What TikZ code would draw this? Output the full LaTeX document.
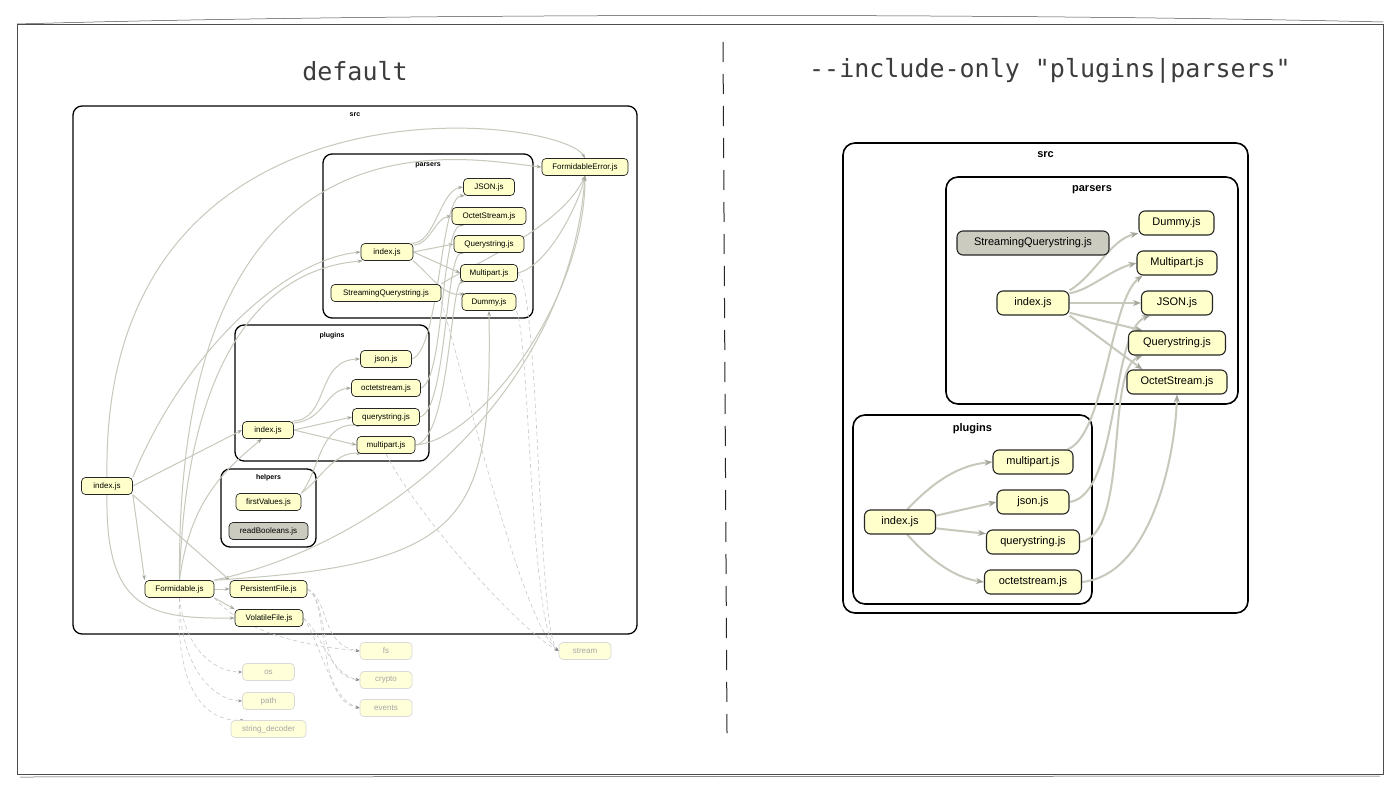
\documentclass[tikz,border=0pt]{standalone}
\usepackage{fontspec}
\setmainfont{Liberation Sans}
\setmonofont{DejaVu Sans Mono}
\usetikzlibrary{arrows.meta,positioning}
\definecolor{filefill}{HTML}{FFFFCC}
\definecolor{orphanfill}{HTML}{CBCBC0}
\definecolor{depline}{HTML}{C6C9BC}
\definecolor{deptip}{HTML}{A2A598}
\definecolor{titlecol}{HTML}{3C3C3C}
\pgfdeclarelayer{bg}
\pgfdeclarelayer{edgelayer}
\pgfsetlayers{bg,edgelayer,main}

\begin{document}
\begin{tikzpicture}[x=1pt, y=-1pt,
  file/.style={draw=black!85, line width=0.7pt, fill=filefill, rounded corners=4pt,
    minimum width=#1, minimum height=17pt, inner sep=0pt, font=\fontsize{8}{9}\selectfont},
  file/.default=56pt,
  bigfile/.style={file=#1, line width=1.1pt, rounded corners=6pt, minimum height=24pt,
    font=\fontsize{11}{13}\selectfont},
  bigfile/.default=76pt,
  extfile/.style={file=#1, draw=black!15, fill=filefill!75, text=black!35},
  extfile/.default=52pt,
  orphan/.style={fill=orphanfill},
  folder/.style={draw=black, line width=1.3pt, rounded corners=9pt, inner sep=0pt},
  bigfolder/.style={folder, line width=1.6pt, rounded corners=12pt},
  flabel/.style={font=\bfseries\fontsize{7}{8}\selectfont, inner sep=0pt},
  bigflabel/.style={font=\bfseries\fontsize{11}{13}\selectfont, inner sep=0pt},
  dep/.style={draw=depline, line width=1pt, -{Stealth[length=5pt,width=3.5pt,color=deptip]}},
  bigdep/.style={draw=depline, line width=2pt, -{Stealth[length=8pt,width=6pt,color=deptip]}},
  extdep/.style={draw=black!22, line width=0.6pt, dash pattern=on 4pt off 3pt,
    -{Stealth[length=4pt,width=3pt,color=black!45]}},
  sketch/.style={draw=black!70, line width=0.9pt},
  title/.style={font=\ttfamily\fontsize{25}{30}\selectfont, text=titlecol}
]
\useasboundingbox (0,0) rectangle (1400,795);
\begin{pgfonlayer}{bg}
  \fill[white] (0,0) rectangle (1400,795);
\end{pgfonlayer}

% Frame
\draw[sketch] (17,24) -- (1383,24) -- (1383,774) -- (17,774) -- cycle;
\draw[sketch, line width=0.5pt] (17,24) .. controls (400,13) and (1000,13) .. (1383,22);
\draw[sketch, line width=0.5pt] (20,777) -- (1380,776);
\draw[black!85, line width=1pt, dash pattern=on 20pt off 12pt] (723,42) -- (727,733);

% Titles
\node[title] (tLeft) at (355,71) {default};
\node[title] (tRight) at (1050,71) {--include-only "plugins|parsers"};

% Folders (left)
\begin{pgfonlayer}{bg}
\node[folder, minimum width=564pt, minimum height=528pt] (lsrc) at (355,370) {};
\node[folder, minimum width=210pt, minimum height=164pt] (lparsers) at (428,236) {};
\node[folder, minimum width=194pt, minimum height=136pt] (lplugins) at (332,393) {};
\node[folder, minimum width=95pt, minimum height=78pt] (lhelpers) at (268.5,508) {};
\node[flabel, below=7pt of lsrc.north] (lsrcLbl) {src};
\node[flabel, below=9pt of lparsers.north] (lparsersLbl) {parsers};
\node[flabel, below=8pt of lplugins.north] (lpluginsLbl) {plugins};
\node[flabel, below=6pt of lhelpers.north] (lhelpersLbl) {helpers};
\end{pgfonlayer}

% Files (left)
\node[file=86pt] (fErr) at (585,167) {FormidableError.js};
\node[file=51pt] (pJSON) at (489,187) {JSON.js};
\node[file=74pt] (pOctet) at (489,216) {OctetStream.js};
\node[file=70pt] (pQuery) at (489,244) {Querystring.js};
\node[file=57pt] (pMulti) at (489,273) {Multipart.js};
\node[file=54pt] (pDummy) at (489,302) {Dummy.js};
\node[file=52pt] (pIndex) at (387,252) {index.js};
\node[file=110pt] (pStream) at (386,293) {StreamingQuerystring.js};
\node[file=51pt] (plJson) at (386,359) {json.js};
\node[file=69pt] (plOctet) at (386,388) {octetstream.js};
\node[file=67pt] (plQuery) at (386,417) {querystring.js};
\node[file=58pt] (plMulti) at (386,445) {multipart.js};
\node[file=51pt] (plIndex) at (268,430) {index.js};
\node[file=65pt] (hFirst) at (268.5,502) {firstValues.js};
\node[file=79pt, orphan] (hRead) at (268.5,531) {readBooleans.js};
\node[file=51pt] (rIndex) at (107,486) {index.js};
\node[file=69pt] (formid) at (179.5,589) {Formidable.js};
\node[file=77pt] (pFile) at (268.5,589) {PersistentFile.js};
\node[file=68pt] (vFile) at (269,618) {VolatileFile.js};

% External modules (left)
\node[extfile] (exFs) at (386,651) {fs};
\node[extfile] (exCrypto) at (386,680) {crypto};
\node[extfile] (exEvents) at (386,708) {events};
\node[extfile] (exOs) at (268.5,672) {os};
\node[extfile] (exPath) at (268.5,701) {path};
\node[extfile=75pt] (exStrDec) at (268.5,729) {string\_decoder};
\node[extfile] (exStream) at (585,651) {stream};

% Folders (right)
\begin{pgfonlayer}{bg}
\node[bigfolder, minimum width=405pt, minimum height=470pt] (rsrc) at (1045.5,378) {};
\node[bigfolder, minimum width=292pt, minimum height=227pt] (rparsers) at (1092,290.5) {};
\node[bigfolder, minimum width=239pt, minimum height=189pt] (rplugins) at (972.5,509.5) {};
\node[bigflabel, below=9pt of rsrc.north] (rsrcLbl) {src};
\node[bigflabel, below=9pt of rparsers.north] (rparsersLbl) {parsers};
\node[bigflabel, below=9pt of rplugins.north] (rpluginsLbl) {plugins};
\end{pgfonlayer}

% Files (right)
\node[bigfile=75pt] (rDummy) at (1176.5,223) {Dummy.js};
\node[bigfile=80pt] (rMulti) at (1177,263) {Multipart.js};
\node[bigfile=71pt] (rJSON) at (1177,303) {JSON.js};
\node[bigfile=97pt] (rQuery) at (1177,343) {Querystring.js};
\node[bigfile=100pt] (rOctet) at (1177,382) {OctetStream.js};
\node[bigfile=152pt, orphan] (rStream) at (1033,243) {StreamingQuerystring.js};
\node[bigfile=72pt] (rpIndex) at (1033,303) {index.js};
\node[bigfile=80pt] (rlMulti) at (1033,462) {multipart.js};
\node[bigfile=72pt] (rlJson) at (1033,502) {json.js};
\node[bigfile=93pt] (rlQuery) at (1033,542) {querystring.js};
\node[bigfile=97pt] (rlOctet) at (1033,582) {octetstream.js};
\node[bigfile=71pt] (rlIndex) at (900,522) {index.js};

\begin{pgfonlayer}{edgelayer}
% Dependencies (left)
\draw[dep] (rIndex.north) .. controls (100,60) and (560,115) .. (fErr.north);
\draw[dep] (formid.north) .. controls (175,90) and (470,160) .. (fErr.west);
\draw[dep] (rIndex.north east) .. controls (180,360) and (280,260) .. (pIndex.west);
\draw[dep] (formid.north) .. controls (185,380) and (250,270) .. (pIndex.200);
\draw[dep] (rIndex.east) -- (plIndex.west);
\draw[dep] (rIndex.south east) -- (formid.north west);
\draw[dep] (rIndex.south east) -- (pFile.north west);
\draw[dep] (rIndex.south) .. controls (105,610) and (150,619) .. (vFile.west);
\draw[dep] (formid.east) -- (pFile.west);
\draw[dep] (formid.south east) -- (vFile.north west);
\draw[dep] (formid.north) .. controls (190,500) and (225,470) .. (plIndex.235);
\draw[dep] (formid.north east) .. controls (400,540) and (570,380) .. (fErr.south);
\draw[dep] (formid.north east) .. controls (470,565) and (492,520) .. (pDummy.south);
\draw[dep] (pIndex.20) .. controls (435,245) and (440,190) .. (pJSON.west);
\draw[dep] (pIndex.15) .. controls (430,245) and (435,218) .. (pOctet.west);
\draw[dep] (pIndex.east) -- (pQuery.west);
\draw[dep] (pIndex.east) -- (pMulti.west);
\draw[dep] (pIndex.south east) .. controls (430,275) and (445,298) .. (pDummy.160);
\draw[dep] (plIndex.20) .. controls (330,420) and (315,360) .. (plJson.west);
\draw[dep] (plIndex.15) .. controls (325,420) and (325,390) .. (plOctet.west);
\draw[dep] (plIndex.east) -- (plQuery.west);
\draw[dep] (plIndex.east) -- (plMulti.west);
\draw[dep] (plJson.east) .. controls (440,350) and (440,195) .. (pJSON.200);
\draw[dep] (plOctet.east) .. controls (445,380) and (440,225) .. (pOctet.200);
\draw[dep] (plQuery.east) .. controls (447,410) and (445,252) .. (pQuery.200);
\draw[dep] (plMulti.east) .. controls (450,440) and (450,282) .. (pMulti.200);
\draw[dep] (hFirst.north east) .. controls (320,470) and (320,420) .. (plQuery.200);
\draw[dep] (hFirst.north east) .. controls (320,480) and (335,450) .. (plMulti.200);
\draw[dep] (plMulti.east) .. controls (480,440) and (585,300) .. (fErr.south);
\draw[dep] (pMulti.east) .. controls (550,265) and (580,200) .. (fErr.south);
\draw[dep] (pStream.north east) .. controls (460,270) and (560,230) .. (fErr.south);

% External dependencies (left)
\draw[extdep] (formid.south) .. controls (185,650) and (215,672) .. (exOs.west);
\draw[extdep] (formid.south) .. controls (180,670) and (215,700) .. (exPath.west);
\draw[extdep] (formid.south) .. controls (175,690) and (205,722) .. (exStrDec.160);
\draw[extdep] (formid.south east) .. controls (250,640) and (330,648) .. (exFs.west);
\draw[extdep] (pFile.east) .. controls (330,600) and (320,645) .. (exFs.west);
\draw[extdep] (pFile.east) .. controls (330,600) and (315,675) .. (exCrypto.west);
\draw[extdep] (pFile.east) .. controls (330,600) and (315,700) .. (exEvents.west);
\draw[extdep] (vFile.east) .. controls (320,630) and (330,675) .. (exCrypto.west);
\draw[extdep] (vFile.east) .. controls (320,640) and (330,700) .. (exEvents.west);
\draw[extdep] (pDummy.south east) .. controls (530,340) and (530,630) .. (exStream.west);
\draw[extdep] (pMulti.east) .. controls (540,290) and (537,630) .. (exStream.west);
\draw[extdep] (plMulti.south) .. controls (420,520) and (520,630) .. (exStream.west);
\draw[extdep] (pStream.south east) .. controls (460,360) and (520,620) .. (exStream.west);

% Dependencies (right)
\draw[bigdep] (rpIndex.north east) .. controls (1095,275) and (1110,240) .. (rDummy.195);
\draw[bigdep] (rpIndex.15) .. controls (1090,290) and (1110,270) .. (rMulti.west);
\draw[bigdep] (rpIndex.east) -- (rJSON.west);
\draw[bigdep] (rpIndex.345) -- (rQuery.160);
\draw[bigdep] (rpIndex.south east) -- (rOctet.160);
\draw[bigdep] (rlIndex.60) .. controls (935,480) and (960,465) .. (rlMulti.west);
\draw[bigdep] (rlIndex.10) -- (rlJson.west);
\draw[bigdep] (rlIndex.350) -- (rlQuery.170);
\draw[bigdep] (rlIndex.300) .. controls (930,560) and (955,578) .. (rlOctet.west);
\draw[bigdep] (rlMulti.20) .. controls (1105,435) and (1110,300) .. (rMulti.200);
\draw[bigdep] (rlJson.east) .. controls (1120,495) and (1110,330) .. (rJSON.205);
\draw[bigdep] (rlQuery.east) .. controls (1130,535) and (1105,370) .. (rQuery.200);
\draw[bigdep] (rlOctet.east) .. controls (1150,575) and (1175,460) .. (rOctet.south);
\end{pgfonlayer}
\end{tikzpicture}
\end{document}
